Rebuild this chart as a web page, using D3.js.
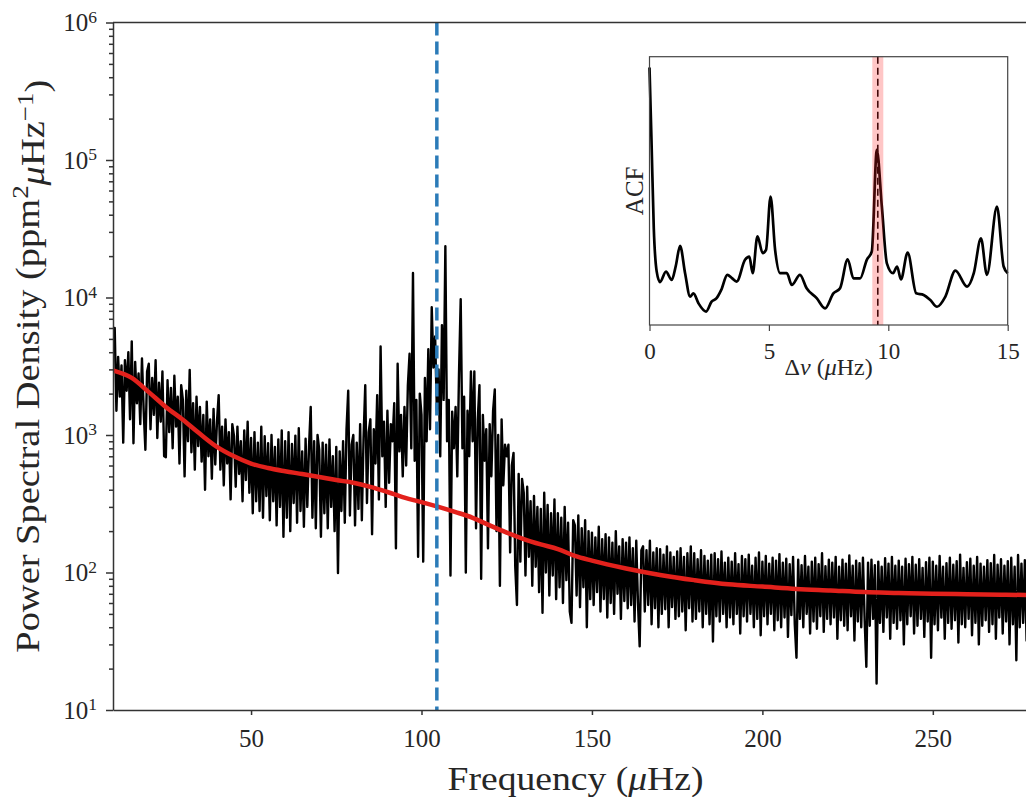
<!DOCTYPE html>
<html>
<head>
<meta charset="utf-8">
<script src="https://cdn.jsdelivr.net/npm/d3@7"></script>
<style>
  body { margin: 0; background: #fff; }
  svg { display: block; overflow: hidden; }
  text { font-family: "Liberation Serif", "Times New Roman", serif; fill: #262626; }
</style>
</head>
<body>
<svg id="chart" width="1026" height="797"></svg>
<script>
// power spectrum (0.5 μHz bins)
const FREQ_START = 9.5;
const FREQ_STEP = 0.5;
const PSD = [
  4200,
  6000, 1500, 3700, 1900, 3200, 880, 3500, 2100, 4000, 1300,   // 10
  4800, 870, 3400, 1700, 2800, 1200, 3600, 1500, 780, 2900,    // 15
  3300, 1100, 2600, 1400, 3500, 950, 2400, 1250, 2900, 700,    // 20
  690, 2500, 1050, 2200, 800, 2700, 1150, 1900, 620, 2300,     // 25
  1800, 500, 2100, 900, 2970, 750, 1700, 560, 1900, 830,       // 30
  1600, 640, 1400, 400, 1750, 700, 1300, 480, 1550, 610,       // 35
  1250, 1950, 560, 1150, 430, 1300, 620, 1050, 340, 1200,      // 40
  980, 420, 1150, 520, 900, 330, 1080, 470, 1250, 380,         // 45
  950, 270, 1050, 330, 880, 280, 1150, 250, 980, 360,          // 50
  870, 240, 1000, 330, 820, 220, 930, 300, 1080, 182,          // 55
  900, 250, 1050, 200, 860, 320, 990, 230, 1120, 280,          // 60
  760, 215, 940, 300, 820, 1600, 250, 900, 210, 1000,          // 65
  780, 182, 880, 270, 850, 210, 930, 300, 700, 200,            // 70
  820, 99, 760, 280, 900, 230, 1100, 2100, 260, 850,           // 75
  1000, 220, 880, 290, 1200, 240, 950, 2300, 320, 1050,        // 80
  1300, 190, 1100, 620, 1950, 340, 4400, 700, 1250, 300,       // 85
  1500, 450, 1200, 900, 1700, 150, 3300, 760, 1400, 500,       // 90
  1600, 600, 2300, 3900, 800, 15100, 650, 1800, 130, 2000,     // 95
  1400, 120, 2600, 900, 4200, 1100, 8500, 3100, 5200, 1500,    // 100
  3000, 700, 6300, 1800, 23600, 900, 1800, 95, 1480, 800,      // 105
  1600, 500, 2800, 9700, 800, 1900, 100, 1500, 700, 2900,      // 110
  900, 2900, 210, 1300, 2300, 90, 1400, 650, 1100, 150,        // 115
  1200, 500, 1500, 2140, 200, 1000, 80, 1300, 430, 850,        // 120
  700, 850, 140, 600, 740, 110, 58, 520, 120, 480,             // 125
  380, 95, 420, 130, 330, 80, 360, 110, 300, 72,               // 130
  290, 51, 380, 100, 310, 68, 270, 95, 340, 64,                // 135
  270, 78, 250, 60, 300, 88, 230, 52, 43, 240,                 // 140
  220, 68, 260, 56, 210, 78, 240, 40, 200, 64,                 // 145
  195, 58, 180, 72, 215, 52, 175, 64, 190, 47,                 // 150
  180, 60, 165, 50, 200, 70, 155, 46, 175, 62,                 // 155
  165, 55, 180, 58, 150, 44, 170, 60, 29, 145,                 // 160
  155, 52, 145, 58, 170, 42, 140, 55, 150, 40,                 // 165
  148, 50, 135, 54, 155, 40, 140, 56, 130, 46,                 // 170
  142, 48, 150, 52, 130, 38, 138, 55, 155, 44,                 // 175
  138, 46, 125, 52, 145, 40, 132, 50, 122, 42,                 // 180
  135, 31.5, 138, 48, 125, 44, 142, 50, 118, 40,               // 185
  128, 47, 120, 42, 138, 50, 115, 36, 132, 48,                 // 190
  125, 44, 135, 50, 112, 40, 128, 46, 140, 35,                 // 195
  120, 48, 132, 42, 116, 50, 128, 38, 122, 45,                 // 200
  136, 40, 118, 47, 126, 34, 115, 49, 130, 42,                 // 205
  24, 124, 46, 113, 40, 132, 50, 110, 36, 120,                 // 210
  44, 128, 39, 115, 48, 138, 37, 111, 46, 124,                 // 215
  42, 118, 47, 130, 33, 110, 45, 124, 41, 116,                 // 220
  38, 133, 48, 112, 32, 122, 44, 117, 40, 128,                 // 225
  45, 20.6, 118, 41, 124, 46, 113, 15.6, 120, 43,              // 230
  110, 37, 127, 47, 116, 33, 130, 43, 112, 39,                 // 235
  122, 45, 110, 30, 126, 42, 115, 48, 130, 36,                 // 240
  114, 41, 125, 46, 108, 34, 119, 44, 128, 24,                 // 245
  120, 42, 112, 38, 132, 47, 110, 33, 117, 43,                 // 250
  128, 39, 114, 45, 121, 31, 135, 42, 108, 40,                 // 255
  119, 46, 126, 35, 112, 43, 130, 30, 116, 41,                 // 260
  110, 45, 123, 37, 117, 42, 134, 33, 114, 47,                 // 265
  125, 36, 112, 44, 121, 30, 128, 42, 110, 23,                 // 270
  134, 40, 116, 43, 123, 32, 140, 45, 112, 38,                 // 275
  121, 42, 117, 37, 128, 43                                    // 280
];

// background fit (red)
const BG_FREQ = [9.5, 15, 20, 25, 30, 35, 40, 45, 50, 55, 60, 65, 70, 75, 80, 85, 90, 95, 100, 105,
  110, 115, 120, 125, 130, 135, 140, 145, 150, 160, 170, 180, 190, 200, 210, 220, 230, 240, 250, 260, 270, 283];
const BG_PSD = [2950, 2600, 2050, 1600, 1290, 1020, 820, 700, 620, 575, 545, 520, 495, 470, 450, 420, 385, 350, 325, 300,
  275, 250, 220, 195, 175, 160, 148, 132, 122, 107, 96, 88, 82, 79, 76, 74, 72, 71, 70, 69.5, 69, 68.3];

const NUMAX = 104.5;
const X_TICKS = [50, 100, 150, 200, 250];
const Y_TICKS = [1e1, 1e2, 1e3, 1e4, 1e5, 1e6];

// inset: autocorrelation of the spectrum
const ACF_LAG = [0, 0.08, 0.18, 0.3, 0.44, 0.69, 0.93, 1.1, 1.28, 1.49, 1.7, 1.84, 2.05, 2.37, 2.6, 2.81, 3.0,
  3.26, 3.45, 3.65, 4.0, 4.18, 4.32, 4.52, 4.74, 4.88, 5.07, 5.26, 5.47, 5.75, 5.96, 6.3, 6.58, 7.0, 7.35,
  7.7, 7.98, 8.3, 8.54, 8.82, 9.1, 9.31, 9.52, 9.73, 9.94, 10.2, 10.37, 10.53, 10.81, 11.17, 11.48, 11.76,
  12.04, 12.39, 12.81, 13.3, 13.58, 13.88, 14.13, 14.55, 14.83, 15.0];
const ACF_VAL = [0.96, 0.7, 0.36, 0.2, 0.16, 0.199, 0.168, 0.22, 0.295, 0.193, 0.106, 0.118, 0.081, 0.05, 0.087,
  0.1, 0.13, 0.187, 0.175, 0.162, 0.243, 0.255, 0.193, 0.33, 0.268, 0.28, 0.479, 0.28, 0.193, 0.193, 0.149,
  0.187, 0.137, 0.1, 0.062, 0.118, 0.137, 0.245, 0.174, 0.174, 0.243, 0.274, 0.653, 0.441, 0.23, 0.193, 0.218,
  0.17, 0.27, 0.118, 0.112, 0.093, 0.068, 0.106, 0.203, 0.143, 0.193, 0.323, 0.187, 0.441, 0.218, 0.193];
const DNU = 9.56;
const DNU_ERR = 0.23;
const ACF_TICKS = [0, 5, 10, 15];

const M = { left: 113, top: 22.5, right: 1046, bottom: 710 };
const IN = { left: 649.5, top: 56.7, right: 1007.7, bottom: 325 };

const svg = d3.select('#chart');

const x = d3.scaleLinear().domain([FREQ_START, 283.2]).range([M.left, M.right]);
const y = d3.scaleLog().domain([10, 1e6]).range([M.bottom, M.top]);

svg.append('defs').append('clipPath').attr('id', 'plot-clip')
  .append('rect')
  .attr('x', M.left).attr('y', M.top)
  .attr('width', M.right - M.left).attr('height', M.bottom - M.top);

const plot = svg.append('g').attr('clip-path', 'url(#plot-clip)');

// spectrum
const spectrum = PSD.map((p, i) => ({ f: FREQ_START + i * FREQ_STEP, p }));
plot.append('path')
  .datum(spectrum)
  .attr('fill', 'none')
  .attr('stroke', '#000')
  .attr('stroke-width', 2.4)
  .attr('stroke-linejoin', 'round')
  .attr('d', d3.line().x(d => x(d.f)).y(d => y(d.p)));

// background model
const bg = BG_FREQ.map((f, i) => ({ f, p: BG_PSD[i] }));
plot.append('path')
  .datum(bg)
  .attr('fill', 'none')
  .attr('stroke', '#e3211c')
  .attr('stroke-width', 4.5)
  .attr('d', d3.line().curve(d3.curveMonotoneX).x(d => x(d.f)).y(d => y(d.p)));

// numax marker
plot.append('line')
  .attr('x1', x(NUMAX)).attr('x2', x(NUMAX))
  .attr('y1', M.top).attr('y2', M.bottom)
  .attr('stroke', '#2b7bb8')
  .attr('stroke-width', 3.5)
  .attr('stroke-dasharray', '13,6');

// axes
const AXIS_COL = '#333';

const xAxis = svg.append('g')
  .attr('transform', `translate(0,${M.bottom})`)
  .call(d3.axisBottom(x).tickValues(X_TICKS).tickSize(5).tickSizeOuter(0).tickPadding(14)
    .tickFormat(d3.format('d')));
xAxis.selectAll('text').attr('font-size', 25).attr('fill', '#262626');

const minor = y.ticks().filter(d => Math.abs(Math.log10(d) - Math.round(Math.log10(d))) > 1e-6);
svg.append('g')
  .attr('transform', `translate(${M.left},0)`)
  .call(d3.axisLeft(y).tickValues(minor).tickSize(4).tickFormat(''))
  .call(g => g.select('.domain').remove());

const yAxis = svg.append('g')
  .attr('transform', `translate(${M.left},0)`)
  .call(d3.axisLeft(y).tickValues(Y_TICKS).tickSize(7).tickSizeOuter(0).tickPadding(9));

yAxis.selectAll('.tick text').each(function(d) {
  const t = d3.select(this).text(null).attr('font-size', 25).attr('fill', '#262626');
  t.append('tspan').text('10');
  t.append('tspan').attr('dy', '-0.48em').attr('font-size', '0.7em').text(Math.round(Math.log10(d)));
});

svg.selectAll('.domain, .tick line').attr('stroke', AXIS_COL).attr('stroke-width', 1.5);

// top and right spines
svg.append('line').attr('x1', M.left).attr('x2', M.right).attr('y1', M.top).attr('y2', M.top)
  .attr('stroke', AXIS_COL).attr('stroke-width', 1.5);
svg.append('line').attr('x1', M.right).attr('x2', M.right).attr('y1', M.top).attr('y2', M.bottom)
  .attr('stroke', AXIS_COL).attr('stroke-width', 1.5);

// axis titles
const xt = svg.append('text')
  .attr('x', (M.left + M.right) / 2 - 4).attr('y', 790)
  .attr('text-anchor', 'middle').attr('font-size', 34)
  .attr('textLength', 256).attr('lengthAdjust', 'spacingAndGlyphs');
xt.append('tspan').text('Frequency (');
xt.append('tspan').attr('font-style', 'italic').text('μ');
xt.append('tspan').text('Hz)');

const yt = svg.append('text')
  .attr('transform', `translate(39,${(M.top + M.bottom) / 2}) rotate(-90)`)
  .attr('text-anchor', 'middle').attr('font-size', 34)
  .attr('textLength', 573).attr('lengthAdjust', 'spacingAndGlyphs');
yt.append('tspan').text('Power Spectral Density (ppm');
yt.append('tspan').attr('dy', '-0.45em').attr('font-size', '0.7em').text('2');
yt.append('tspan').attr('dy', '0.45em').attr('font-style', 'italic').text('μ');
yt.append('tspan').text('Hz');
yt.append('tspan').attr('dy', '-0.45em').attr('font-size', '0.7em').text('−1');
yt.append('tspan').attr('dy', '0.45em').text(')');

// inset
const ix = d3.scaleLinear().domain([0, 15]).range([IN.left, IN.right]);
const iy = d3.scaleLinear().domain([0, 1]).range([IN.bottom, IN.top]);
const inset = svg.append('g');

inset.append('rect')
  .attr('x', IN.left).attr('y', IN.top)
  .attr('width', IN.right - IN.left).attr('height', IN.bottom - IN.top)
  .attr('fill', '#fff');

const acf = ACF_LAG.map((l, i) => ({ l, v: ACF_VAL[i] }));
inset.append('path')
  .datum(acf)
  .attr('fill', 'none')
  .attr('stroke', '#000')
  .attr('stroke-width', 2.7)
  .attr('stroke-linejoin', 'round')
  .attr('d', d3.line().curve(d3.curveMonotoneX).x(d => ix(d.l)).y(d => iy(d.v)));

inset.append('line')
  .attr('x1', ix(DNU)).attr('x2', ix(DNU))
  .attr('y1', IN.top).attr('y2', IN.bottom)
  .attr('stroke', '#000').attr('stroke-width', 1.6)
  .attr('stroke-dasharray', '7,4');

inset.append('rect')
  .attr('x', ix(DNU - DNU_ERR)).attr('y', IN.top)
  .attr('width', ix(DNU + DNU_ERR) - ix(DNU - DNU_ERR)).attr('height', IN.bottom - IN.top)
  .attr('fill', '#ff2222').attr('fill-opacity', 0.26);

inset.append('rect')
  .attr('x', IN.left).attr('y', IN.top)
  .attr('width', IN.right - IN.left).attr('height', IN.bottom - IN.top)
  .attr('fill', 'none').attr('stroke', '#444').attr('stroke-width', 1.2);

const ixAxis = inset.append('g')
  .attr('transform', `translate(0,${IN.bottom})`)
  .call(d3.axisBottom(ix).tickValues(ACF_TICKS).tickSize(6).tickSizeOuter(0).tickPadding(12));
ixAxis.select('.domain').remove();
ixAxis.selectAll('.tick line').attr('stroke', '#444').attr('stroke-width', 1.2);
ixAxis.selectAll('text').attr('font-size', 23).attr('fill', '#262626');

const il = inset.append('text')
  .attr('x', (IN.left + IN.right) / 2).attr('y', 375)
  .attr('text-anchor', 'middle').attr('font-size', 24);
il.append('tspan').text('Δ');
il.append('tspan').attr('font-style', 'italic').text('ν');
il.append('tspan').text(' (');
il.append('tspan').attr('font-style', 'italic').text('μ');
il.append('tspan').text('Hz)');

inset.append('text')
  .attr('transform', `translate(634,${(IN.top + IN.bottom) / 2}) rotate(-90)`)
  .attr('text-anchor', 'middle').attr('dominant-baseline', 'central')
  .attr('font-size', 25)
  .text('ACF');
</script>
</body>
</html>
